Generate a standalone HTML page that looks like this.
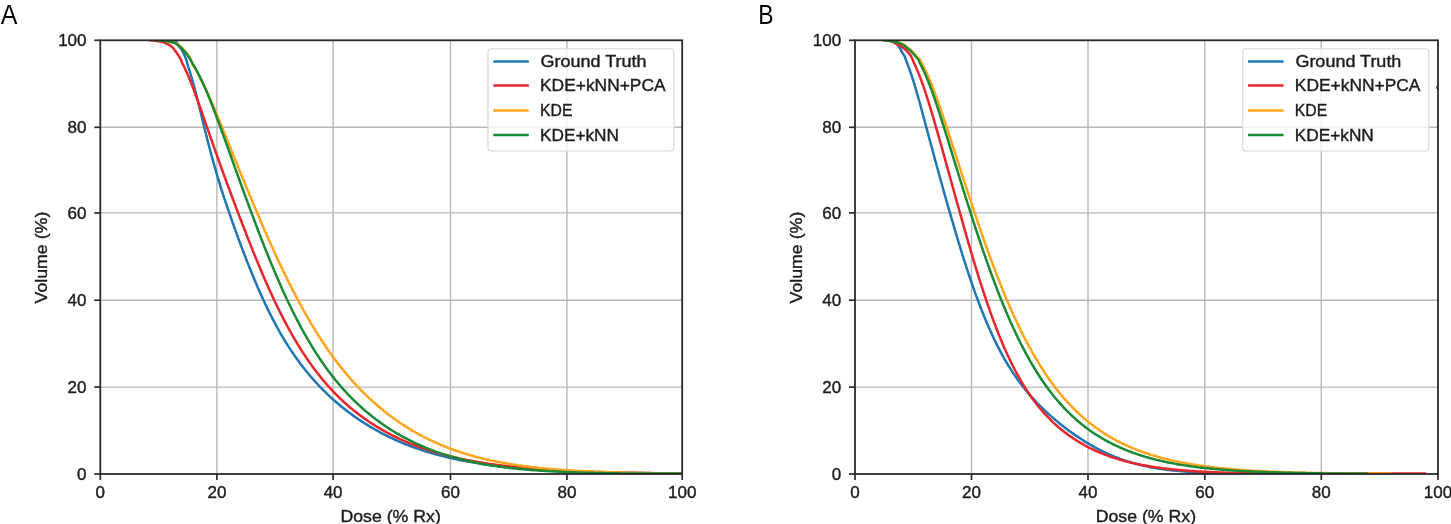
<!DOCTYPE html>
<html><head><meta charset="utf-8"><style>
html,body{margin:0;padding:0;background:#fff;width:1451px;height:524px;overflow:hidden}
svg{display:block;font-family:"Liberation Sans",sans-serif;filter:blur(0.35px)}
</style></head><body>
<svg width="1451" height="524" viewBox="0 0 1451 524" font-family="Liberation Sans, sans-serif">
<rect width="1451" height="524" fill="#ffffff"/>
<line x1="216.9" y1="40.3" x2="216.9" y2="474.0" stroke="#b8b8b8" stroke-width="1.4"/>
<line x1="333.1" y1="40.3" x2="333.1" y2="474.0" stroke="#b8b8b8" stroke-width="1.4"/>
<line x1="450.5" y1="40.3" x2="450.5" y2="474.0" stroke="#b8b8b8" stroke-width="1.4"/>
<line x1="566.9" y1="40.3" x2="566.9" y2="474.0" stroke="#b8b8b8" stroke-width="1.4"/>
<line x1="100.3" y1="387.1" x2="682.2" y2="387.1" stroke="#b8b8b8" stroke-width="1.4"/>
<line x1="100.3" y1="300.2" x2="682.2" y2="300.2" stroke="#b8b8b8" stroke-width="1.4"/>
<line x1="100.3" y1="212.9" x2="682.2" y2="212.9" stroke="#b8b8b8" stroke-width="1.4"/>
<line x1="100.3" y1="127.3" x2="682.2" y2="127.3" stroke="#b8b8b8" stroke-width="1.4"/>
<clipPath id="clipA"><rect x="100.3" y="40.3" width="581.9" height="433.7"/></clipPath>
<g clip-path="url(#clipA)">
<path d="M171.50,39.00 L173.50,40.30 L175.80,41.20 L177.60,44.00 L179.60,47.00 L181.80,50.00 L183.50,53.00 L184.90,56.30 L186.50,60.20 L187.75,65.44 L189.21,69.72 L190.66,74.34 L192.12,79.28 L193.58,84.49 L195.04,89.95 L196.50,95.60 L197.95,101.41 L199.41,107.32 L200.87,113.30 L202.32,119.30 L203.78,125.30 L205.24,131.19 L206.70,136.99 L208.16,142.70 L209.61,148.30 L211.07,153.79 L212.53,159.16 L213.99,164.41 L215.44,169.52 L216.90,174.52 L218.35,179.39 L219.81,184.15 L221.26,188.80 L222.71,193.35 L224.16,197.81 L225.62,202.18 L227.07,206.48 L228.52,210.71 L229.97,214.92 L231.43,219.11 L232.88,223.24 L234.33,227.33 L235.78,231.37 L237.24,235.36 L238.69,239.31 L240.14,243.23 L241.59,247.10 L243.05,250.93 L244.50,254.72 L245.95,258.47 L247.40,262.18 L248.86,265.85 L250.31,269.47 L251.76,273.05 L253.21,276.59 L254.67,280.07 L256.12,283.51 L257.57,286.90 L259.02,290.24 L260.48,293.53 L261.93,296.76 L263.38,299.95 L264.83,303.07 L266.29,306.13 L267.74,309.14 L269.19,312.10 L270.64,315.01 L272.10,317.86 L273.55,320.66 L275.00,323.40 L276.45,326.10 L277.91,328.74 L279.36,331.33 L280.81,333.87 L282.26,336.36 L283.72,338.81 L285.17,341.20 L286.62,343.55 L288.07,345.85 L289.52,348.11 L290.98,350.32 L292.43,352.49 L293.88,354.62 L295.34,356.71 L296.79,358.76 L298.24,360.76 L299.69,362.73 L301.14,364.66 L302.60,366.56 L304.05,368.42 L305.50,370.25 L306.96,372.04 L308.41,373.80 L309.86,375.53 L311.31,377.22 L312.76,378.89 L314.22,380.53 L315.67,382.14 L317.12,383.72 L318.58,385.27 L320.03,386.80 L321.48,388.30 L322.93,389.78 L324.38,391.23 L325.84,392.66 L327.29,394.07 L328.74,395.45 L330.20,396.81 L331.65,398.15 L333.10,399.46 L334.57,400.76 L336.04,402.03 L337.50,403.29 L338.97,404.52 L340.44,405.74 L341.91,406.93 L343.37,408.11 L344.84,409.27 L346.31,410.41 L347.78,411.54 L349.24,412.64 L350.71,413.73 L352.18,414.81 L353.65,415.86 L355.11,416.90 L356.58,417.93 L358.05,418.94 L359.52,419.93 L360.98,420.91 L362.45,421.87 L363.92,422.81 L365.38,423.75 L366.85,424.66 L368.32,425.57 L369.79,426.46 L371.25,427.33 L372.72,428.19 L374.19,429.04 L375.66,429.88 L377.12,430.70 L378.59,431.51 L380.06,432.30 L381.53,433.08 L383.00,433.85 L384.46,434.61 L385.93,435.35 L387.40,436.09 L388.87,436.81 L390.33,437.52 L391.80,438.21 L393.27,438.90 L394.74,439.57 L396.20,440.24 L397.67,440.89 L399.14,441.53 L400.61,442.16 L402.07,442.78 L403.54,443.38 L405.01,443.98 L406.48,444.57 L407.94,445.15 L409.41,445.71 L410.88,446.27 L412.35,446.82 L413.81,447.36 L415.28,447.88 L416.75,448.40 L418.22,448.91 L419.68,449.41 L421.15,449.91 L422.62,450.39 L424.09,450.86 L425.55,451.33 L427.02,451.79 L428.49,452.23 L429.96,452.67 L431.42,453.11 L432.89,453.53 L434.36,453.95 L435.82,454.36 L437.29,454.76 L438.76,455.15 L440.23,455.54 L441.69,455.91 L443.16,456.29 L444.63,456.65 L446.10,457.01 L447.56,457.36 L449.03,457.70 L450.50,458.04 L451.95,458.37 L453.41,458.69 L454.87,459.01 L456.32,459.33 L457.77,459.63 L459.23,459.93 L460.69,460.22 L462.14,460.51 L463.59,460.80 L465.05,461.07 L466.50,461.34 L467.96,461.61 L469.42,461.87 L470.87,462.13 L472.32,462.38 L473.78,462.62 L475.24,462.86 L476.69,463.10 L478.14,463.33 L479.60,463.56 L481.06,463.78 L482.51,464.00 L483.96,464.21 L485.42,464.42 L486.88,464.62 L488.33,464.82 L489.78,465.02 L491.24,465.21 L492.69,465.40 L494.15,465.58 L495.61,465.76 L497.06,465.94 L498.51,466.11 L499.97,466.28 L501.43,466.45 L502.88,466.61 L504.33,466.77 L505.79,466.92 L507.25,467.08 L508.70,467.22 L510.15,467.37 L511.61,467.51 L513.06,467.65 L514.52,467.79 L515.98,467.93 L517.43,468.06 L518.88,468.19 L520.34,468.31 L521.79,468.43 L523.25,468.56 L524.70,468.67 L526.16,468.79 L527.62,468.90 L529.07,469.01 L530.52,469.12 L531.98,469.23 L533.43,469.33 L534.89,469.43 L536.35,469.53 L537.80,469.63 L539.25,469.72 L540.71,469.82 L542.16,469.91 L543.62,470.00 L545.07,470.08 L546.53,470.17 L547.99,470.25 L549.44,470.34 L550.89,470.42 L552.35,470.49 L553.80,470.57 L555.26,470.65 L556.71,470.72 L558.17,470.79 L559.62,470.86 L561.08,470.93 L562.53,471.00 L563.99,471.06 L565.44,471.13 L566.90,471.19 L568.34,471.25 L569.78,471.31 L571.22,471.37 L572.66,471.43 L574.11,471.48 L575.55,471.54 L576.99,471.59 L578.43,471.65 L579.87,471.70 L581.31,471.75 L582.75,471.80 L584.19,471.84 L585.64,471.89 L587.08,471.94 L588.52,471.98 L589.96,472.03 L591.40,472.07 L592.84,472.11 L594.28,472.15 L595.73,472.19 L597.17,472.23 L598.61,472.27 L600.05,472.31 L601.49,472.35 L602.93,472.38 L604.37,472.42 L605.81,472.45 L607.25,472.49 L608.70,472.52 L610.14,472.55 L611.58,472.59 L613.02,472.62 L614.46,472.65 L615.90,472.68 L617.34,472.70 L618.78,472.73 L620.23,472.76 L621.67,472.79 L623.11,472.81 L624.55,472.84 L625.99,472.87 L627.43,472.89 L628.87,472.91 L630.32,472.94 L631.76,472.96 L633.20,472.98 L634.64,473.01 L636.08,473.03 L637.52,473.05 L638.96,473.07 L640.40,473.09 L641.85,473.11 L643.29,473.13 L644.73,473.15 L646.17,473.17 L647.61,473.19 L649.05,473.20 L650.49,473.22 L651.93,473.24 L653.38,473.25 L654.82,473.27 L656.26,473.29 L657.70,473.30 L659.14,473.32 L660.58,473.33 L662.02,473.35 L663.46,473.36 L664.90,473.37 L666.35,473.39 L667.79,473.40 L669.23,473.41 L670.67,473.43 L672.11,473.44 L673.55,473.45 L674.99,473.46 L676.44,473.48 L677.88,473.49 L679.32,473.50 L680.76,473.51 L682.20,473.52" fill="none" stroke="#1f77b4" stroke-width="2.5" stroke-linejoin="round" stroke-linecap="butt"/>
<path d="M148.00,39.00 L150.00,40.30 L155.00,40.85 L160.00,41.60 L165.00,42.90 L170.00,45.30 L172.70,47.60 L175.30,51.00 L178.00,54.70 L181.10,60.00 L181.92,62.50 L183.38,65.32 L184.83,68.32 L186.29,71.48 L187.75,74.80 L189.21,78.25 L190.66,81.84 L192.12,85.54 L193.58,89.34 L195.04,93.24 L196.50,97.21 L197.95,101.25 L199.41,105.35 L200.87,109.49 L202.32,113.66 L203.78,117.86 L205.24,122.08 L206.70,126.31 L208.16,130.49 L209.61,134.66 L211.07,138.82 L212.53,142.97 L213.99,147.10 L215.44,151.22 L216.90,155.32 L218.35,159.40 L219.81,163.47 L221.26,167.51 L222.71,171.53 L224.16,175.52 L225.62,179.50 L227.07,183.45 L228.52,187.39 L229.97,191.30 L231.43,195.19 L232.88,199.05 L234.33,202.90 L235.78,206.73 L237.24,210.53 L238.69,214.34 L240.14,218.18 L241.59,221.99 L243.05,225.78 L244.50,229.55 L245.95,233.29 L247.40,237.01 L248.86,240.70 L250.31,244.37 L251.76,248.01 L253.21,251.62 L254.67,255.20 L256.12,258.75 L257.57,262.28 L259.02,265.77 L260.48,269.22 L261.93,272.65 L263.38,276.03 L264.83,279.39 L266.29,282.70 L267.74,285.98 L269.19,289.22 L270.64,292.42 L272.10,295.59 L273.55,298.71 L275.00,301.78 L276.45,304.81 L277.91,307.79 L279.36,310.74 L280.81,313.64 L282.26,316.50 L283.72,319.32 L285.17,322.09 L286.62,324.82 L288.07,327.51 L289.52,330.16 L290.98,332.76 L292.43,335.32 L293.88,337.84 L295.34,340.32 L296.79,342.75 L298.24,345.15 L299.69,347.50 L301.14,349.81 L302.60,352.09 L304.05,354.32 L305.50,356.51 L306.96,358.67 L308.41,360.78 L309.86,362.86 L311.31,364.90 L312.76,366.90 L314.22,368.87 L315.67,370.80 L317.12,372.70 L318.58,374.56 L320.03,376.39 L321.48,378.18 L322.93,379.95 L324.38,381.68 L325.84,383.37 L327.29,385.04 L328.74,386.68 L330.20,388.28 L331.65,389.86 L333.10,391.41 L334.57,392.93 L336.04,394.42 L337.50,395.89 L338.97,397.32 L340.44,398.74 L341.91,400.12 L343.37,401.48 L344.84,402.82 L346.31,404.13 L347.78,405.42 L349.24,406.69 L350.71,407.93 L352.18,409.15 L353.65,410.35 L355.11,411.53 L356.58,412.69 L358.05,413.82 L359.52,414.94 L360.98,416.03 L362.45,417.11 L363.92,418.17 L365.38,419.21 L366.85,420.23 L368.32,421.23 L369.79,422.21 L371.25,423.18 L372.72,424.13 L374.19,425.06 L375.66,425.98 L377.12,426.88 L378.59,427.76 L380.06,428.63 L381.53,429.49 L383.00,430.33 L384.46,431.15 L385.93,431.96 L387.40,432.76 L388.87,433.54 L390.33,434.30 L391.80,435.06 L393.27,435.80 L394.74,436.53 L396.20,437.24 L397.67,437.95 L399.14,438.64 L400.61,439.31 L402.07,439.98 L403.54,440.63 L405.01,441.28 L406.48,441.91 L407.94,442.53 L409.41,443.13 L410.88,443.73 L412.35,444.32 L413.81,444.90 L415.28,445.46 L416.75,446.02 L418.22,446.57 L419.68,447.10 L421.15,447.63 L422.62,448.15 L424.09,448.65 L425.55,449.15 L427.02,449.64 L428.49,450.12 L429.96,450.59 L431.42,451.06 L432.89,451.51 L434.36,451.96 L435.82,452.40 L437.29,452.83 L438.76,453.25 L440.23,453.66 L441.69,454.07 L443.16,454.47 L444.63,454.86 L446.10,455.25 L447.56,455.62 L449.03,455.99 L450.50,456.36 L451.95,456.71 L453.41,457.06 L454.87,457.41 L456.32,457.74 L457.77,458.07 L459.23,458.40 L460.69,458.72 L462.14,459.03 L463.59,459.33 L465.05,459.63 L466.50,459.93 L467.96,460.22 L469.42,460.50 L470.87,460.78 L472.32,461.05 L473.78,461.31 L475.24,461.58 L476.69,461.83 L478.14,462.08 L479.60,462.33 L481.06,462.57 L482.51,462.81 L483.96,463.04 L485.42,463.27 L486.88,463.49 L488.33,463.71 L489.78,463.93 L491.24,464.14 L492.69,464.34 L494.15,464.55 L495.61,464.74 L497.06,464.94 L498.51,465.13 L499.97,465.31 L501.43,465.50 L502.88,465.68 L504.33,465.85 L505.79,466.02 L507.25,466.19 L508.70,466.36 L510.15,466.52 L511.61,466.68 L513.06,466.83 L514.52,466.98 L515.98,467.13 L517.43,467.28 L518.88,467.42 L520.34,467.56 L521.79,467.70 L523.25,467.83 L524.70,467.96 L526.16,468.09 L527.62,468.22 L529.07,468.34 L530.52,468.46 L531.98,468.58 L533.43,468.69 L534.89,468.81 L536.35,468.92 L537.80,469.03 L539.25,469.13 L540.71,469.24 L542.16,469.34 L543.62,469.44 L545.07,469.54 L546.53,469.64 L547.99,469.73 L549.44,469.82 L550.89,469.91 L552.35,470.00 L553.80,470.09 L555.26,470.17 L556.71,470.25 L558.17,470.33 L559.62,470.41 L561.08,470.49 L562.53,470.57 L563.99,470.64 L565.44,470.71 L566.90,470.78 L568.34,470.85 L569.78,470.92 L571.22,470.99 L572.66,471.05 L574.11,471.12 L575.55,471.18 L576.99,471.24 L578.43,471.30 L579.87,471.36 L581.31,471.42 L582.75,471.47 L584.19,471.53 L585.64,471.58 L587.08,471.63 L588.52,471.68 L589.96,471.74 L591.40,471.78 L592.84,471.83 L594.28,471.88 L595.73,471.93 L597.17,471.97 L598.61,472.02 L600.05,472.06 L601.49,472.10 L602.93,472.14 L604.37,472.18 L605.81,472.22 L607.25,472.26 L608.70,472.30 L610.14,472.34 L611.58,472.37 L613.02,472.41 L614.46,472.44 L615.90,472.48 L617.34,472.51 L618.78,472.54 L620.23,472.57 L621.67,472.60 L623.11,472.64 L624.55,472.67 L625.99,472.69 L627.43,472.72 L628.87,472.75 L630.32,472.78 L631.76,472.80 L633.20,472.83 L634.64,472.86 L636.08,472.88 L637.52,472.91 L638.96,472.93 L640.40,472.95 L641.85,472.98 L643.29,473.00 L644.73,473.02 L646.17,473.04 L647.61,473.06 L649.05,473.08 L650.49,473.10 L651.93,473.12 L653.38,473.14 L654.82,473.16 L656.26,473.18 L657.70,473.20 L659.14,473.21 L660.58,473.23 L662.02,473.25 L663.46,473.26 L664.90,473.28 L666.35,473.30 L667.79,473.31 L669.23,473.33 L670.67,473.34 L672.11,473.36 L673.55,473.37 L674.99,473.38 L676.44,473.40 L677.88,473.41 L679.32,473.42 L680.76,473.43 L682.20,473.45" fill="none" stroke="#e8262b" stroke-width="2.5" stroke-linejoin="round" stroke-linecap="butt"/>
<path d="M156.00,39.00 L158.00,40.30 L164.00,40.70 L169.00,41.40 L173.00,42.20 L176.20,43.20 L179.60,45.70 L182.80,48.70 L185.70,51.80 L188.40,55.50 L191.20,60.00 L192.12,63.80 L193.58,66.07 L195.04,68.45 L196.50,70.93 L197.95,73.52 L199.41,76.21 L200.87,79.00 L202.32,81.87 L203.78,84.84 L205.24,87.88 L206.70,91.00 L208.16,94.19 L209.61,97.45 L211.07,100.77 L212.53,104.14 L213.99,107.56 L215.44,111.02 L216.90,114.53 L218.35,118.07 L219.81,121.63 L221.26,125.23 L222.71,128.82 L224.16,132.39 L225.62,135.98 L227.07,139.58 L228.52,143.18 L229.97,146.79 L231.43,150.40 L232.88,154.01 L234.33,157.62 L235.78,161.22 L237.24,164.82 L238.69,168.40 L240.14,171.98 L241.59,175.55 L243.05,179.10 L244.50,182.64 L245.95,186.16 L247.40,189.67 L248.86,193.16 L250.31,196.63 L251.76,200.09 L253.21,203.53 L254.67,206.95 L256.12,210.35 L257.57,213.75 L259.02,217.18 L260.48,220.58 L261.93,223.97 L263.38,227.33 L264.83,230.67 L266.29,233.99 L267.74,237.29 L269.19,240.57 L270.64,243.82 L272.10,247.04 L273.55,250.25 L275.00,253.42 L276.45,256.58 L277.91,259.70 L279.36,262.81 L280.81,265.88 L282.26,268.93 L283.72,271.96 L285.17,274.95 L286.62,277.92 L288.07,280.86 L289.52,283.78 L290.98,286.66 L292.43,289.52 L293.88,292.34 L295.34,295.14 L296.79,297.91 L298.24,300.65 L299.69,303.34 L301.14,306.01 L302.60,308.65 L304.05,311.25 L305.50,313.83 L306.96,316.38 L308.41,318.89 L309.86,321.38 L311.31,323.83 L312.76,326.26 L314.22,328.65 L315.67,331.01 L317.12,333.35 L318.58,335.65 L320.03,337.92 L321.48,340.16 L322.93,342.37 L324.38,344.55 L325.84,346.71 L327.29,348.83 L328.74,350.92 L330.20,352.99 L331.65,355.02 L333.10,357.03 L334.57,359.01 L336.04,360.96 L337.50,362.88 L338.97,364.77 L340.44,366.64 L341.91,368.48 L343.37,370.29 L344.84,372.08 L346.31,373.84 L347.78,375.57 L349.24,377.28 L350.71,378.96 L352.18,380.62 L353.65,382.25 L355.11,383.86 L356.58,385.45 L358.05,387.01 L359.52,388.54 L360.98,390.06 L362.45,391.55 L363.92,393.02 L365.38,394.46 L366.85,395.89 L368.32,397.29 L369.79,398.67 L371.25,400.03 L372.72,401.37 L374.19,402.69 L375.66,403.99 L377.12,405.27 L378.59,406.53 L380.06,407.77 L381.53,408.99 L383.00,410.19 L384.46,411.37 L385.93,412.53 L387.40,413.68 L388.87,414.81 L390.33,415.92 L391.80,417.01 L393.27,418.08 L394.74,419.14 L396.20,420.18 L397.67,421.21 L399.14,422.22 L400.61,423.21 L402.07,424.19 L403.54,425.15 L405.01,426.09 L406.48,427.02 L407.94,427.93 L409.41,428.83 L410.88,429.72 L412.35,430.59 L413.81,431.44 L415.28,432.29 L416.75,433.11 L418.22,433.93 L419.68,434.73 L421.15,435.51 L422.62,436.29 L424.09,437.05 L425.55,437.79 L427.02,438.53 L428.49,439.25 L429.96,439.96 L431.42,440.66 L432.89,441.34 L434.36,442.01 L435.82,442.67 L437.29,443.32 L438.76,443.96 L440.23,444.59 L441.69,445.20 L443.16,445.81 L444.63,446.40 L446.10,446.98 L447.56,447.55 L449.03,448.12 L450.50,448.67 L451.95,449.21 L453.41,449.74 L454.87,450.26 L456.32,450.77 L457.77,451.27 L459.23,451.77 L460.69,452.25 L462.14,452.72 L463.59,453.19 L465.05,453.64 L466.50,454.09 L467.96,454.53 L469.42,454.96 L470.87,455.38 L472.32,455.79 L473.78,456.20 L475.24,456.60 L476.69,456.99 L478.14,457.37 L479.60,457.74 L481.06,458.11 L482.51,458.47 L483.96,458.82 L485.42,459.16 L486.88,459.50 L488.33,459.83 L489.78,460.16 L491.24,460.47 L492.69,460.78 L494.15,461.09 L495.61,461.39 L497.06,461.68 L498.51,461.96 L499.97,462.24 L501.43,462.52 L502.88,462.78 L504.33,463.05 L505.79,463.30 L507.25,463.55 L508.70,463.80 L510.15,464.04 L511.61,464.28 L513.06,464.51 L514.52,464.73 L515.98,464.95 L517.43,465.17 L518.88,465.38 L520.34,465.58 L521.79,465.78 L523.25,465.98 L524.70,466.17 L526.16,466.36 L527.62,466.55 L529.07,466.73 L530.52,466.90 L531.98,467.07 L533.43,467.24 L534.89,467.41 L536.35,467.57 L537.80,467.72 L539.25,467.88 L540.71,468.03 L542.16,468.17 L543.62,468.32 L545.07,468.46 L546.53,468.59 L547.99,468.73 L549.44,468.86 L550.89,468.98 L552.35,469.11 L553.80,469.23 L555.26,469.35 L556.71,469.46 L558.17,469.58 L559.62,469.69 L561.08,469.79 L562.53,469.90 L563.99,470.00 L565.44,470.10 L566.90,470.20 L568.34,470.30 L569.78,470.39 L571.22,470.48 L572.66,470.57 L574.11,470.65 L575.55,470.74 L576.99,470.82 L578.43,470.90 L579.87,470.98 L581.31,471.06 L582.75,471.13 L584.19,471.21 L585.64,471.28 L587.08,471.35 L588.52,471.41 L589.96,471.48 L591.40,471.54 L592.84,471.61 L594.28,471.67 L595.73,471.73 L597.17,471.79 L598.61,471.84 L600.05,471.90 L601.49,471.95 L602.93,472.01 L604.37,472.06 L605.81,472.11 L607.25,472.16 L608.70,472.20 L610.14,472.25 L611.58,472.29 L613.02,472.34 L614.46,472.38 L615.90,472.42 L617.34,472.47 L618.78,472.50 L620.23,472.54 L621.67,472.58 L623.11,472.62 L624.55,472.65 L625.99,472.69 L627.43,472.72 L628.87,472.76 L630.32,472.79 L631.76,472.82 L633.20,472.85 L634.64,472.88 L636.08,472.91 L637.52,472.94 L638.96,472.97 L640.40,472.99 L641.85,473.02 L643.29,473.05 L644.73,473.07 L646.17,473.10 L647.61,473.12 L649.05,473.14 L650.49,473.17 L651.93,473.19 L653.38,473.21 L654.82,473.23 L656.26,473.25 L657.70,473.27 L659.14,473.29 L660.58,473.30 L662.02,473.30 L663.46,473.30 L664.90,473.30 L666.35,473.30 L667.79,473.30 L669.23,473.30 L670.67,473.30 L672.11,473.30 L673.55,473.30 L674.99,473.30 L676.44,473.30 L677.88,473.30 L679.32,473.30 L680.76,473.30 L682.20,473.30" fill="none" stroke="#ffa51c" stroke-width="2.5" stroke-linejoin="round" stroke-linecap="butt"/>
<path d="M155.00,39.00 L157.00,40.30 L163.00,40.70 L168.00,41.40 L172.00,42.20 L175.30,43.20 L178.80,45.70 L182.00,48.70 L185.00,51.80 L187.80,55.50 L190.70,60.00 L192.12,62.79 L193.58,65.15 L195.04,67.64 L196.50,70.26 L197.95,73.00 L199.41,75.87 L200.87,78.85 L202.32,81.94 L203.78,85.15 L205.24,88.45 L206.70,91.84 L208.16,95.33 L209.61,98.89 L211.07,102.54 L212.53,106.25 L213.99,110.03 L215.44,113.86 L216.90,117.74 L218.35,121.68 L219.81,125.65 L221.26,129.61 L222.71,133.58 L224.16,137.58 L225.62,141.59 L227.07,145.62 L228.52,149.66 L229.97,153.71 L231.43,157.76 L232.88,161.81 L234.33,165.86 L235.78,169.91 L237.24,173.94 L238.69,177.97 L240.14,181.99 L241.59,185.99 L243.05,189.98 L244.50,193.95 L245.95,197.90 L247.40,201.83 L248.86,205.74 L250.31,209.63 L251.76,213.50 L253.21,217.42 L254.67,221.30 L256.12,225.17 L257.57,229.00 L259.02,232.80 L260.48,236.58 L261.93,240.32 L263.38,244.03 L264.83,247.71 L266.29,251.36 L267.74,254.98 L269.19,258.56 L270.64,262.10 L272.10,265.61 L273.55,269.09 L275.00,272.53 L276.45,275.93 L277.91,279.29 L279.36,282.62 L280.81,285.90 L282.26,289.15 L283.72,292.36 L285.17,295.53 L286.62,298.66 L288.07,301.74 L289.52,304.77 L290.98,307.77 L292.43,310.72 L293.88,313.63 L295.34,316.50 L296.79,319.33 L298.24,322.12 L299.69,324.86 L301.14,327.57 L302.60,330.23 L304.05,332.85 L305.50,335.43 L306.96,337.98 L308.41,340.48 L309.86,342.94 L311.31,345.36 L312.76,347.74 L314.22,350.08 L315.67,352.38 L317.12,354.64 L318.58,356.86 L320.03,359.05 L321.48,361.20 L322.93,363.31 L324.38,365.39 L325.84,367.43 L327.29,369.43 L328.74,371.40 L330.20,373.34 L331.65,375.24 L333.10,377.11 L334.57,378.94 L336.04,380.75 L337.50,382.52 L338.97,384.26 L340.44,385.97 L341.91,387.65 L343.37,389.30 L344.84,390.92 L346.31,392.51 L347.78,394.07 L349.24,395.61 L350.71,397.12 L352.18,398.60 L353.65,400.06 L355.11,401.49 L356.58,402.90 L358.05,404.28 L359.52,405.64 L360.98,406.98 L362.45,408.29 L363.92,409.58 L365.38,410.85 L366.85,412.09 L368.32,413.32 L369.79,414.52 L371.25,415.70 L372.72,416.86 L374.19,418.01 L375.66,419.13 L377.12,420.23 L378.59,421.32 L380.06,422.38 L381.53,423.43 L383.00,424.46 L384.46,425.47 L385.93,426.47 L387.40,427.44 L388.87,428.40 L390.33,429.35 L391.80,430.27 L393.27,431.19 L394.74,432.08 L396.20,432.96 L397.67,433.83 L399.14,434.68 L400.61,435.51 L402.07,436.33 L403.54,437.14 L405.01,437.93 L406.48,438.70 L407.94,439.47 L409.41,440.22 L410.88,440.95 L412.35,441.68 L413.81,442.39 L415.28,443.08 L416.75,443.77 L418.22,444.44 L419.68,445.10 L421.15,445.74 L422.62,446.38 L424.09,447.00 L425.55,447.61 L427.02,448.21 L428.49,448.80 L429.96,449.38 L431.42,449.95 L432.89,450.50 L434.36,451.05 L435.82,451.58 L437.29,452.10 L438.76,452.62 L440.23,453.12 L441.69,453.61 L443.16,454.09 L444.63,454.57 L446.10,455.03 L447.56,455.49 L449.03,455.93 L450.50,456.37 L451.95,456.79 L453.41,457.21 L454.87,457.62 L456.32,458.02 L457.77,458.41 L459.23,458.80 L460.69,459.17 L462.14,459.54 L463.59,459.90 L465.05,460.25 L466.50,460.60 L467.96,460.93 L469.42,461.26 L470.87,461.58 L472.32,461.90 L473.78,462.21 L475.24,462.51 L476.69,462.80 L478.14,463.09 L479.60,463.37 L481.06,463.64 L482.51,463.91 L483.96,464.17 L485.42,464.43 L486.88,464.68 L488.33,464.93 L489.78,465.16 L491.24,465.40 L492.69,465.62 L494.15,465.85 L495.61,466.06 L497.06,466.27 L498.51,466.48 L499.97,466.68 L501.43,466.88 L502.88,467.07 L504.33,467.26 L505.79,467.44 L507.25,467.62 L508.70,467.79 L510.15,467.96 L511.61,468.12 L513.06,468.28 L514.52,468.44 L515.98,468.59 L517.43,468.74 L518.88,468.89 L520.34,469.03 L521.79,469.17 L523.25,469.30 L524.70,469.43 L526.16,469.56 L527.62,469.68 L529.07,469.80 L530.52,469.92 L531.98,470.04 L533.43,470.15 L534.89,470.26 L536.35,470.36 L537.80,470.47 L539.25,470.57 L540.71,470.66 L542.16,470.76 L543.62,470.85 L545.07,470.94 L546.53,471.03 L547.99,471.11 L549.44,471.20 L550.89,471.28 L552.35,471.36 L553.80,471.43 L555.26,471.51 L556.71,471.58 L558.17,471.65 L559.62,471.72 L561.08,471.78 L562.53,471.85 L563.99,471.91 L565.44,471.97 L566.90,472.03 L568.34,472.09 L569.78,472.15 L571.22,472.20 L572.66,472.25 L574.11,472.31 L575.55,472.36 L576.99,472.40 L578.43,472.45 L579.87,472.50 L581.31,472.54 L582.75,472.59 L584.19,472.63 L585.64,472.67 L587.08,472.71 L588.52,472.75 L589.96,472.78 L591.40,472.82 L592.84,472.86 L594.28,472.89 L595.73,472.92 L597.17,472.96 L598.61,472.99 L600.05,473.02 L601.49,473.05 L602.93,473.08 L604.37,473.10 L605.81,473.13 L607.25,473.16 L608.70,473.18 L610.14,473.21 L611.58,473.23 L613.02,473.26 L614.46,473.28 L615.90,473.30 L617.34,473.32 L618.78,473.34 L620.23,473.36 L621.67,473.38 L623.11,473.40 L624.55,473.42 L625.99,473.44 L627.43,473.45 L628.87,473.47 L630.32,473.49 L631.76,473.50 L633.20,473.50 L634.64,473.50 L636.08,473.50 L637.52,473.50 L638.96,473.50 L640.40,473.50 L641.85,473.50 L643.29,473.50 L644.73,473.50 L646.17,473.50 L647.61,473.50 L649.05,473.50 L650.49,473.50 L651.93,473.50 L653.38,473.50 L654.82,473.50 L656.26,473.50 L657.70,473.50 L659.14,473.50 L660.58,473.50 L662.02,473.50 L663.46,473.50 L664.90,473.50 L666.35,473.50 L667.79,473.50 L669.23,473.50 L670.67,473.50 L672.11,473.50 L673.55,473.50 L674.99,473.50 L676.44,473.50 L677.88,473.50 L679.32,473.50 L680.76,473.50 L682.20,473.50" fill="none" stroke="#1a8a36" stroke-width="2.5" stroke-linejoin="round" stroke-linecap="butt"/>
</g>
<rect x="100.3" y="40.3" width="581.9" height="433.7" fill="none" stroke="#2a2a2a" stroke-width="1.8"/>
<line x1="100.3" y1="474.0" x2="100.3" y2="480.0" stroke="#2a2a2a" stroke-width="1.7"/>
<line x1="216.9" y1="474.0" x2="216.9" y2="480.0" stroke="#2a2a2a" stroke-width="1.7"/>
<line x1="333.1" y1="474.0" x2="333.1" y2="480.0" stroke="#2a2a2a" stroke-width="1.7"/>
<line x1="450.5" y1="474.0" x2="450.5" y2="480.0" stroke="#2a2a2a" stroke-width="1.7"/>
<line x1="566.9" y1="474.0" x2="566.9" y2="480.0" stroke="#2a2a2a" stroke-width="1.7"/>
<line x1="682.2" y1="474.0" x2="682.2" y2="480.0" stroke="#2a2a2a" stroke-width="1.7"/>
<line x1="94.3" y1="474.0" x2="100.3" y2="474.0" stroke="#2a2a2a" stroke-width="1.7"/>
<line x1="94.3" y1="387.1" x2="100.3" y2="387.1" stroke="#2a2a2a" stroke-width="1.7"/>
<line x1="94.3" y1="300.2" x2="100.3" y2="300.2" stroke="#2a2a2a" stroke-width="1.7"/>
<line x1="94.3" y1="212.9" x2="100.3" y2="212.9" stroke="#2a2a2a" stroke-width="1.7"/>
<line x1="94.3" y1="127.3" x2="100.3" y2="127.3" stroke="#2a2a2a" stroke-width="1.7"/>
<line x1="94.3" y1="40.3" x2="100.3" y2="40.3" stroke="#2a2a2a" stroke-width="1.7"/>
<text x="100.3" y="498.3" text-anchor="middle" font-size="17" fill="#1c1c1c" stroke="#1c1c1c" stroke-width="0.4">0</text>
<text x="216.9" y="498.3" text-anchor="middle" font-size="17" fill="#1c1c1c" stroke="#1c1c1c" stroke-width="0.4">20</text>
<text x="333.1" y="498.3" text-anchor="middle" font-size="17" fill="#1c1c1c" stroke="#1c1c1c" stroke-width="0.4">40</text>
<text x="450.5" y="498.3" text-anchor="middle" font-size="17" fill="#1c1c1c" stroke="#1c1c1c" stroke-width="0.4">60</text>
<text x="566.9" y="498.3" text-anchor="middle" font-size="17" fill="#1c1c1c" stroke="#1c1c1c" stroke-width="0.4">80</text>
<text x="682.2" y="498.3" text-anchor="middle" font-size="17" fill="#1c1c1c" stroke="#1c1c1c" stroke-width="0.4">100</text>
<text x="86.5" y="479.8" text-anchor="end" font-size="17" fill="#1c1c1c" stroke="#1c1c1c" stroke-width="0.4">0</text>
<text x="86.5" y="392.90000000000003" text-anchor="end" font-size="17" fill="#1c1c1c" stroke="#1c1c1c" stroke-width="0.4">20</text>
<text x="86.5" y="306.0" text-anchor="end" font-size="17" fill="#1c1c1c" stroke="#1c1c1c" stroke-width="0.4">40</text>
<text x="86.5" y="218.70000000000002" text-anchor="end" font-size="17" fill="#1c1c1c" stroke="#1c1c1c" stroke-width="0.4">60</text>
<text x="86.5" y="133.1" text-anchor="end" font-size="17" fill="#1c1c1c" stroke="#1c1c1c" stroke-width="0.4">80</text>
<text x="86.5" y="46.099999999999994" text-anchor="end" font-size="17" fill="#1c1c1c" stroke="#1c1c1c" stroke-width="0.4">100</text>
<text x="390.65" y="521.9" text-anchor="middle" font-size="17" fill="#1c1c1c" stroke="#1c1c1c" stroke-width="0.4" textLength="100.4" lengthAdjust="spacingAndGlyphs">Dose (% Rx)</text>
<text transform="translate(47.0,257.6) rotate(-90)" x="0" y="0" text-anchor="middle" font-size="17" fill="#1c1c1c" stroke="#1c1c1c" stroke-width="0.4" textLength="91.8" lengthAdjust="spacingAndGlyphs">Volume (%)</text>
<rect x="488.0" y="48.7" width="186.0" height="102.3" rx="3" ry="3" fill="#ffffff" fill-opacity="0.8" stroke="#d8d8d8" stroke-width="1.1"/>
<line x1="493.3" y1="61.4" x2="528.8" y2="61.4" stroke="#1f77b4" stroke-width="2.5"/>
<text x="540.6" y="67.0" font-size="17.2" fill="#1c1c1c" stroke="#1c1c1c" stroke-width="0.4" textLength="106.0" lengthAdjust="spacingAndGlyphs">Ground Truth</text>
<line x1="493.3" y1="85.6" x2="528.8" y2="85.6" stroke="#e8262b" stroke-width="2.5"/>
<text x="540.0" y="91.19999999999999" font-size="17.2" fill="#1c1c1c" stroke="#1c1c1c" stroke-width="0.4" textLength="125.6" lengthAdjust="spacingAndGlyphs">KDE+kNN+PCA</text>
<line x1="493.3" y1="110.4" x2="528.8" y2="110.4" stroke="#ffa51c" stroke-width="2.5"/>
<text x="540.0" y="116.0" font-size="17.2" fill="#1c1c1c" stroke="#1c1c1c" stroke-width="0.4" textLength="32.4" lengthAdjust="spacingAndGlyphs">KDE</text>
<line x1="493.3" y1="135.0" x2="528.8" y2="135.0" stroke="#1a8a36" stroke-width="2.5"/>
<text x="540.0" y="140.6" font-size="17.2" fill="#1c1c1c" stroke="#1c1c1c" stroke-width="0.4" textLength="79.0" lengthAdjust="spacingAndGlyphs">KDE+kNN</text>
<text transform="translate(0.8,24.2) scale(0.89,1)" x="0" y="0" font-size="28" fill="#000">A</text>
<line x1="971.5" y1="40.3" x2="971.5" y2="474.0" stroke="#b8b8b8" stroke-width="1.4"/>
<line x1="1088.0" y1="40.3" x2="1088.0" y2="474.0" stroke="#b8b8b8" stroke-width="1.4"/>
<line x1="1204.8" y1="40.3" x2="1204.8" y2="474.0" stroke="#b8b8b8" stroke-width="1.4"/>
<line x1="1321.3" y1="40.3" x2="1321.3" y2="474.0" stroke="#b8b8b8" stroke-width="1.4"/>
<line x1="855.0" y1="387.1" x2="1438.0" y2="387.1" stroke="#b8b8b8" stroke-width="1.4"/>
<line x1="855.0" y1="300.2" x2="1438.0" y2="300.2" stroke="#b8b8b8" stroke-width="1.4"/>
<line x1="855.0" y1="212.9" x2="1438.0" y2="212.9" stroke="#b8b8b8" stroke-width="1.4"/>
<line x1="855.0" y1="127.3" x2="1438.0" y2="127.3" stroke="#b8b8b8" stroke-width="1.4"/>
<clipPath id="clipB"><rect x="855.0" y="40.3" width="583.0" height="433.7"/></clipPath>
<g clip-path="url(#clipB)">
<path d="M889.00,39.00 L891.00,40.30 L894.50,41.90 L897.30,44.60 L900.00,48.40 L902.20,52.30 L904.50,56.10 L906.00,60.00 L907.42,63.85 L908.88,67.67 L910.34,71.76 L911.79,76.09 L913.25,80.64 L914.71,85.38 L916.16,90.29 L917.62,95.34 L919.08,100.51 L920.53,105.78 L921.99,111.12 L923.44,116.53 L924.90,121.97 L926.36,127.44 L927.81,132.85 L929.27,138.26 L930.73,143.67 L932.18,149.07 L933.64,154.45 L935.09,159.82 L936.55,165.16 L938.01,170.48 L939.46,175.77 L940.92,181.03 L942.38,186.26 L943.83,191.45 L945.29,196.60 L946.74,201.72 L948.20,206.79 L949.66,211.83 L951.11,216.90 L952.57,221.95 L954.02,226.94 L955.48,231.89 L956.94,236.79 L958.39,241.63 L959.85,246.42 L961.31,251.15 L962.76,255.82 L964.22,260.43 L965.67,264.97 L967.13,269.46 L968.59,273.87 L970.04,278.21 L971.50,282.49 L972.96,286.69 L974.41,290.82 L975.87,294.88 L977.33,298.86 L978.78,302.75 L980.24,306.56 L981.69,310.30 L983.15,313.96 L984.61,317.54 L986.06,321.04 L987.52,324.47 L988.98,327.82 L990.43,331.10 L991.89,334.29 L993.34,337.42 L994.80,340.47 L996.26,343.44 L997.71,346.35 L999.17,349.18 L1000.62,351.94 L1002.08,354.63 L1003.54,357.26 L1004.99,359.82 L1006.45,362.31 L1007.91,364.74 L1009.36,367.12 L1010.82,369.43 L1012.27,371.68 L1013.73,373.88 L1015.19,376.02 L1016.64,378.11 L1018.10,380.15 L1019.56,382.14 L1021.01,384.08 L1022.47,385.98 L1023.92,387.83 L1025.38,389.64 L1026.84,391.41 L1028.29,393.15 L1029.75,394.84 L1031.21,396.50 L1032.66,398.12 L1034.12,399.71 L1035.58,401.27 L1037.03,402.80 L1038.49,404.30 L1039.94,405.77 L1041.40,407.22 L1042.86,408.64 L1044.31,410.03 L1045.77,411.41 L1047.22,412.76 L1048.68,414.08 L1050.14,415.39 L1051.59,416.68 L1053.05,417.95 L1054.51,419.19 L1055.96,420.42 L1057.42,421.64 L1058.88,422.83 L1060.33,424.01 L1061.79,425.17 L1063.24,426.31 L1064.70,427.44 L1066.16,428.55 L1067.61,429.65 L1069.07,430.73 L1070.53,431.79 L1071.98,432.84 L1073.44,433.87 L1074.89,434.89 L1076.35,435.90 L1077.81,436.88 L1079.26,437.86 L1080.72,438.81 L1082.17,439.76 L1083.63,440.68 L1085.09,441.60 L1086.54,442.49 L1088.00,443.37 L1089.46,444.24 L1090.92,445.09 L1092.38,445.92 L1093.84,446.74 L1095.30,447.55 L1096.76,448.33 L1098.22,449.11 L1099.68,449.86 L1101.14,450.60 L1102.60,451.33 L1104.06,452.04 L1105.52,452.73 L1106.98,453.41 L1108.44,454.07 L1109.90,454.72 L1111.36,455.35 L1112.82,455.97 L1114.28,456.57 L1115.74,457.16 L1117.20,457.73 L1118.66,458.29 L1120.12,458.83 L1121.58,459.36 L1123.04,459.87 L1124.50,460.37 L1125.96,460.86 L1127.42,461.33 L1128.88,461.79 L1130.34,462.24 L1131.80,462.67 L1133.26,463.09 L1134.72,463.49 L1136.18,463.89 L1137.64,464.27 L1139.10,464.64 L1140.56,465.00 L1142.02,465.34 L1143.48,465.68 L1144.94,466.00 L1146.40,466.32 L1147.86,466.62 L1149.32,466.91 L1150.78,467.19 L1152.24,467.47 L1153.70,467.73 L1155.16,467.98 L1156.62,468.23 L1158.08,468.46 L1159.54,468.69 L1161.00,468.91 L1162.46,469.12 L1163.92,469.32 L1165.38,469.52 L1166.84,469.71 L1168.30,469.89 L1169.76,470.06 L1171.22,470.23 L1172.68,470.39 L1174.14,470.54 L1175.60,470.69 L1177.06,470.84 L1178.52,470.97 L1179.98,471.10 L1181.44,471.23 L1182.90,471.35 L1184.36,471.47 L1185.82,471.58 L1187.28,471.68 L1188.74,471.79 L1190.20,471.88 L1191.66,471.98 L1193.12,472.07 L1194.58,472.15 L1196.04,472.24 L1197.50,472.31 L1198.96,472.39 L1200.42,472.46 L1201.88,472.53 L1203.34,472.60 L1204.80,472.66 L1206.26,472.72 L1207.71,472.78 L1209.17,472.83 L1210.62,472.89 L1212.08,472.94 L1213.54,472.99 L1214.99,473.03 L1216.45,473.08 L1217.91,473.12 L1219.36,473.16 L1220.82,473.20 L1222.27,473.23 L1223.73,473.27 L1225.19,473.30 L1226.64,473.33 L1228.10,473.36 L1229.56,473.39 L1231.01,473.42 L1232.47,473.45 L1233.92,473.47 L1235.38,473.50 L1236.84,473.52 L1238.29,473.54 L1239.75,473.56 L1241.21,473.58 L1242.66,473.60 L1244.12,473.62 L1245.58,473.64 L1247.03,473.65 L1248.49,473.67 L1249.94,473.68 L1251.40,473.70 L1252.86,473.70 L1254.31,473.70 L1255.77,473.70 L1257.22,473.70 L1258.68,473.70 L1260.14,473.70 L1261.59,473.70 L1263.05,473.70 L1264.51,473.70 L1265.96,473.70 L1267.42,473.70 L1268.88,473.70 L1270.33,473.70 L1271.79,473.70 L1273.24,473.70 L1274.70,473.70 L1276.16,473.70 L1277.61,473.70 L1279.07,473.70 L1280.52,473.70 L1281.98,473.70 L1283.44,473.70 L1284.89,473.70 L1286.35,473.70 L1287.81,473.70 L1289.26,473.70 L1290.72,473.70 L1292.17,473.70 L1293.63,473.70 L1295.09,473.70 L1296.54,473.70 L1298.00,473.70" fill="none" stroke="#1f77b4" stroke-width="2.5" stroke-linejoin="round" stroke-linecap="butt"/>
<path d="M885.00,39.00 L887.00,40.30 L891.00,41.00 L893.50,42.30 L897.30,44.30 L901.10,46.20 L904.90,49.20 L908.70,53.00 L911.00,56.10 L912.80,60.00 L913.25,61.62 L914.71,64.56 L916.16,67.72 L917.62,71.07 L919.08,74.63 L920.53,78.38 L921.99,82.31 L923.44,86.41 L924.90,90.66 L926.36,95.07 L927.81,99.61 L929.27,104.28 L930.73,109.06 L932.18,113.94 L933.64,118.90 L935.09,123.95 L936.55,129.03 L938.01,134.12 L939.46,139.26 L940.92,144.43 L942.38,149.64 L943.83,154.87 L945.29,160.11 L946.74,165.37 L948.20,170.63 L949.66,175.90 L951.11,181.16 L952.57,186.41 L954.02,191.65 L955.48,196.87 L956.94,202.08 L958.39,207.26 L959.85,212.42 L961.31,217.64 L962.76,222.84 L964.22,228.01 L965.67,233.14 L967.13,238.24 L968.59,243.29 L970.04,248.29 L971.50,253.25 L972.96,258.16 L974.41,263.02 L975.87,267.82 L977.33,272.57 L978.78,277.26 L980.24,281.88 L981.69,286.45 L983.15,290.94 L984.61,295.37 L986.06,299.73 L987.52,304.00 L988.98,308.20 L990.43,312.32 L991.89,316.36 L993.34,320.33 L994.80,324.22 L996.26,328.04 L997.71,331.77 L999.17,335.43 L1000.62,339.01 L1002.08,342.51 L1003.54,345.92 L1004.99,349.26 L1006.45,352.53 L1007.91,355.71 L1009.36,358.81 L1010.82,361.84 L1012.27,364.80 L1013.73,367.68 L1015.19,370.48 L1016.64,373.21 L1018.10,375.88 L1019.56,378.47 L1021.01,380.99 L1022.47,383.45 L1023.92,385.84 L1025.38,388.17 L1026.84,390.44 L1028.29,392.64 L1029.75,394.79 L1031.21,396.87 L1032.66,398.91 L1034.12,400.88 L1035.58,402.81 L1037.03,404.68 L1038.49,406.50 L1039.94,408.28 L1041.40,410.00 L1042.86,411.68 L1044.31,413.32 L1045.77,414.91 L1047.22,416.47 L1048.68,417.98 L1050.14,419.45 L1051.59,420.88 L1053.05,422.28 L1054.51,423.64 L1055.96,424.96 L1057.42,426.26 L1058.88,427.52 L1060.33,428.74 L1061.79,429.94 L1063.24,431.10 L1064.70,432.24 L1066.16,433.35 L1067.61,434.43 L1069.07,435.49 L1070.53,436.51 L1071.98,437.52 L1073.44,438.49 L1074.89,439.45 L1076.35,440.38 L1077.81,441.29 L1079.26,442.17 L1080.72,443.04 L1082.17,443.88 L1083.63,444.70 L1085.09,445.50 L1086.54,446.28 L1088.00,447.04 L1089.46,447.79 L1090.92,448.51 L1092.38,449.22 L1093.84,449.91 L1095.30,450.58 L1096.76,451.24 L1098.22,451.88 L1099.68,452.50 L1101.14,453.11 L1102.60,453.70 L1104.06,454.28 L1105.52,454.84 L1106.98,455.39 L1108.44,455.93 L1109.90,456.45 L1111.36,456.95 L1112.82,457.45 L1114.28,457.93 L1115.74,458.40 L1117.20,458.86 L1118.66,459.30 L1120.12,459.73 L1121.58,460.15 L1123.04,460.57 L1124.50,460.96 L1125.96,461.35 L1127.42,461.73 L1128.88,462.10 L1130.34,462.46 L1131.80,462.81 L1133.26,463.14 L1134.72,463.47 L1136.18,463.79 L1137.64,464.11 L1139.10,464.41 L1140.56,464.70 L1142.02,464.99 L1143.48,465.27 L1144.94,465.54 L1146.40,465.80 L1147.86,466.05 L1149.32,466.30 L1150.78,466.54 L1152.24,466.78 L1153.70,467.00 L1155.16,467.22 L1156.62,467.44 L1158.08,467.64 L1159.54,467.84 L1161.00,468.04 L1162.46,468.23 L1163.92,468.41 L1165.38,468.59 L1166.84,468.77 L1168.30,468.93 L1169.76,469.10 L1171.22,469.25 L1172.68,469.41 L1174.14,469.56 L1175.60,469.70 L1177.06,469.84 L1178.52,469.97 L1179.98,470.11 L1181.44,470.23 L1182.90,470.36 L1184.36,470.48 L1185.82,470.59 L1187.28,470.70 L1188.74,470.81 L1190.20,470.92 L1191.66,471.02 L1193.12,471.12 L1194.58,471.21 L1196.04,471.30 L1197.50,471.39 L1198.96,471.48 L1200.42,471.56 L1201.88,471.65 L1203.34,471.72 L1204.80,471.80 L1206.26,471.87 L1207.71,471.95 L1209.17,472.01 L1210.62,472.08 L1212.08,472.15 L1213.54,472.21 L1214.99,472.27 L1216.45,472.33 L1217.91,472.38 L1219.36,472.44 L1220.82,472.49 L1222.27,472.54 L1223.73,472.59 L1225.19,472.64 L1226.64,472.69 L1228.10,472.73 L1229.56,472.77 L1231.01,472.82 L1232.47,472.86 L1233.92,472.90 L1235.38,472.93 L1236.84,472.97 L1238.29,473.00 L1239.75,473.04 L1241.21,473.07 L1242.66,473.10 L1244.12,473.13 L1245.58,473.16 L1247.03,473.19 L1248.49,473.22 L1249.94,473.25 L1251.40,473.27 L1252.86,473.30 L1254.31,473.32 L1255.77,473.35 L1257.22,473.37 L1258.68,473.39 L1260.14,473.41 L1261.59,473.43 L1263.05,473.45 L1264.51,473.47 L1265.96,473.49 L1267.42,473.50 L1268.88,473.50 L1270.33,473.50 L1271.79,473.50 L1273.24,473.50 L1274.70,473.50 L1276.16,473.50 L1277.61,473.50 L1279.07,473.50 L1280.52,473.50 L1281.98,473.50 L1283.44,473.50 L1284.89,473.50 L1286.35,473.50 L1287.81,473.50 L1289.26,473.50 L1290.72,473.50 L1292.17,473.50 L1293.63,473.50 L1295.09,473.50 L1296.54,473.50 L1298.00,473.50 L1299.46,473.50 L1300.91,473.50 L1302.37,473.50 L1303.83,473.50 L1305.28,473.50 L1306.74,473.50 L1308.19,473.50 L1309.65,473.50 L1311.11,473.50 L1312.56,473.50 L1314.02,473.50 L1315.47,473.50 L1316.93,473.50 L1318.39,473.50 L1319.84,473.50 L1321.30,473.50 L1322.76,473.50 L1324.22,473.50 L1325.68,473.50 L1327.13,473.50 L1328.59,473.50 L1330.05,473.50 L1331.51,473.50 L1332.97,473.50 L1334.43,473.50 L1335.89,473.50 L1337.35,473.50 L1338.81,473.50 L1340.26,473.50 L1341.72,473.50 L1343.18,473.50 L1344.64,473.50 L1346.10,473.50 L1347.56,473.50 L1349.02,473.50 L1350.47,473.50 L1351.93,473.50 L1353.39,473.50 L1354.85,473.50 L1356.31,473.50 L1357.77,473.50 L1359.23,473.50 L1360.69,473.50 L1362.14,473.50 L1363.60,473.50 L1365.06,473.50 L1366.52,473.50 L1367.98,473.50 L1369.44,473.50 L1370.90,473.50 L1372.36,473.50 L1373.82,473.50 L1375.27,473.50 L1376.73,473.50 L1378.19,473.50 L1379.65,473.50 L1381.11,473.50 L1382.57,473.50 L1384.03,473.50 L1385.48,473.50 L1386.94,473.50 L1388.40,473.50 L1389.86,473.50 L1391.32,473.50 L1392.78,473.50 L1394.24,473.50 L1395.70,473.50 L1397.15,473.50 L1398.61,473.50 L1400.07,473.50 L1401.53,473.50 L1402.99,473.50 L1404.45,473.50 L1405.91,473.50 L1407.37,473.50 L1408.83,473.50 L1410.28,473.50 L1411.74,473.50 L1413.20,473.50 L1414.66,473.50 L1416.12,473.50 L1417.58,473.50 L1419.04,473.50 L1420.49,473.50 L1421.95,473.50 L1423.41,473.50 L1424.87,473.50 L1426.33,473.50" fill="none" stroke="#e8262b" stroke-width="2.5" stroke-linejoin="round" stroke-linecap="butt"/>
<path d="M882.00,39.00 L884.00,40.30 L890.60,41.10 L898.30,42.30 L904.00,44.60 L907.90,47.70 L911.70,50.90 L915.10,54.50 L917.70,57.50 L920.20,60.00 L920.53,61.11 L921.99,63.69 L923.44,66.43 L924.90,69.33 L926.36,72.39 L927.81,75.60 L929.27,78.95 L930.73,82.44 L932.18,86.06 L933.64,89.80 L935.09,93.66 L936.55,97.61 L938.01,101.66 L939.46,105.80 L940.92,110.02 L942.38,114.30 L943.83,118.65 L945.29,123.05 L946.74,127.49 L948.20,131.91 L949.66,136.35 L951.11,140.83 L952.57,145.32 L954.02,149.82 L955.48,154.34 L956.94,158.86 L958.39,163.37 L959.85,167.89 L961.31,172.39 L962.76,176.89 L964.22,181.37 L965.67,185.83 L967.13,190.27 L968.59,194.70 L970.04,199.09 L971.50,203.46 L972.96,207.80 L974.41,212.11 L975.87,216.46 L977.33,220.80 L978.78,225.09 L980.24,229.35 L981.69,233.58 L983.15,237.76 L984.61,241.91 L986.06,246.02 L987.52,250.08 L988.98,254.11 L990.43,258.09 L991.89,262.03 L993.34,265.92 L994.80,269.78 L996.26,273.58 L997.71,277.34 L999.17,281.06 L1000.62,284.73 L1002.08,288.35 L1003.54,291.92 L1004.99,295.45 L1006.45,298.93 L1007.91,302.35 L1009.36,305.71 L1010.82,309.03 L1012.27,312.30 L1013.73,315.52 L1015.19,318.69 L1016.64,321.82 L1018.10,324.89 L1019.56,327.91 L1021.01,330.89 L1022.47,333.82 L1023.92,336.70 L1025.38,339.53 L1026.84,342.31 L1028.29,345.04 L1029.75,347.73 L1031.21,350.37 L1032.66,352.96 L1034.12,355.50 L1035.58,358.00 L1037.03,360.45 L1038.49,362.86 L1039.94,365.22 L1041.40,367.54 L1042.86,369.81 L1044.31,372.04 L1045.77,374.23 L1047.22,376.37 L1048.68,378.47 L1050.14,380.53 L1051.59,382.55 L1053.05,384.53 L1054.51,386.47 L1055.96,388.37 L1057.42,390.24 L1058.88,392.06 L1060.33,393.85 L1061.79,395.60 L1063.24,397.32 L1064.70,399.00 L1066.16,400.64 L1067.61,402.25 L1069.07,403.83 L1070.53,405.38 L1071.98,406.89 L1073.44,408.37 L1074.89,409.83 L1076.35,411.25 L1077.81,412.64 L1079.26,414.00 L1080.72,415.33 L1082.17,416.64 L1083.63,417.91 L1085.09,419.16 L1086.54,420.39 L1088.00,421.59 L1089.46,422.76 L1090.92,423.91 L1092.38,425.03 L1093.84,426.13 L1095.30,427.20 L1096.76,428.26 L1098.22,429.29 L1099.68,430.30 L1101.14,431.28 L1102.60,432.25 L1104.06,433.20 L1105.52,434.12 L1106.98,435.03 L1108.44,435.91 L1109.90,436.78 L1111.36,437.63 L1112.82,438.46 L1114.28,439.27 L1115.74,440.06 L1117.20,440.84 L1118.66,441.60 L1120.12,442.35 L1121.58,443.08 L1123.04,443.79 L1124.50,444.49 L1125.96,445.17 L1127.42,445.84 L1128.88,446.49 L1130.34,447.13 L1131.80,447.75 L1133.26,448.36 L1134.72,448.96 L1136.18,449.54 L1137.64,450.12 L1139.10,450.67 L1140.56,451.22 L1142.02,451.76 L1143.48,452.28 L1144.94,452.79 L1146.40,453.29 L1147.86,453.78 L1149.32,454.26 L1150.78,454.73 L1152.24,455.18 L1153.70,455.63 L1155.16,456.07 L1156.62,456.49 L1158.08,456.91 L1159.54,457.32 L1161.00,457.72 L1162.46,458.11 L1163.92,458.49 L1165.38,458.86 L1166.84,459.23 L1168.30,459.58 L1169.76,459.93 L1171.22,460.27 L1172.68,460.60 L1174.14,460.93 L1175.60,461.24 L1177.06,461.55 L1178.52,461.86 L1179.98,462.15 L1181.44,462.44 L1182.90,462.72 L1184.36,463.00 L1185.82,463.27 L1187.28,463.53 L1188.74,463.79 L1190.20,464.04 L1191.66,464.29 L1193.12,464.52 L1194.58,464.76 L1196.04,464.99 L1197.50,465.21 L1198.96,465.43 L1200.42,465.64 L1201.88,465.85 L1203.34,466.05 L1204.80,466.25 L1206.26,466.44 L1207.71,466.63 L1209.17,466.81 L1210.62,466.99 L1212.08,467.17 L1213.54,467.34 L1214.99,467.51 L1216.45,467.67 L1217.91,467.83 L1219.36,467.98 L1220.82,468.13 L1222.27,468.28 L1223.73,468.43 L1225.19,468.57 L1226.64,468.70 L1228.10,468.84 L1229.56,468.97 L1231.01,469.10 L1232.47,469.22 L1233.92,469.34 L1235.38,469.46 L1236.84,469.57 L1238.29,469.69 L1239.75,469.80 L1241.21,469.90 L1242.66,470.01 L1244.12,470.11 L1245.58,470.21 L1247.03,470.31 L1248.49,470.40 L1249.94,470.49 L1251.40,470.58 L1252.86,470.67 L1254.31,470.76 L1255.77,470.84 L1257.22,470.92 L1258.68,471.00 L1260.14,471.08 L1261.59,471.15 L1263.05,471.22 L1264.51,471.30 L1265.96,471.37 L1267.42,471.43 L1268.88,471.50 L1270.33,471.56 L1271.79,471.63 L1273.24,471.69 L1274.70,471.75 L1276.16,471.81 L1277.61,471.86 L1279.07,471.92 L1280.52,471.97 L1281.98,472.03 L1283.44,472.08 L1284.89,472.13 L1286.35,472.18 L1287.81,472.22 L1289.26,472.27 L1290.72,472.31 L1292.17,472.36 L1293.63,472.40 L1295.09,472.44 L1296.54,472.48 L1298.00,472.52 L1299.46,472.56 L1300.91,472.60 L1302.37,472.63 L1303.83,472.67 L1305.28,472.70 L1306.74,472.74 L1308.19,472.77 L1309.65,472.80 L1311.11,472.83 L1312.56,472.86 L1314.02,472.89 L1315.47,472.92 L1316.93,472.95 L1318.39,472.98 L1319.84,473.01 L1321.30,473.03 L1322.76,473.06 L1324.22,473.08 L1325.68,473.11 L1327.13,473.13 L1328.59,473.15 L1330.05,473.17 L1331.51,473.20 L1332.97,473.22 L1334.43,473.24 L1335.89,473.26 L1337.35,473.28 L1338.81,473.30 L1340.26,473.31 L1341.72,473.33 L1343.18,473.35 L1344.64,473.37 L1346.10,473.38 L1347.56,473.40 L1349.02,473.40 L1350.47,473.40 L1351.93,473.40 L1353.39,473.40 L1354.85,473.40 L1356.31,473.40 L1357.77,473.40 L1359.23,473.40 L1360.69,473.40 L1362.14,473.40 L1363.60,473.40 L1365.06,473.40 L1366.52,473.40 L1367.98,473.40 L1369.44,473.40 L1370.90,473.40 L1372.36,473.40 L1373.82,473.40 L1375.27,473.40 L1376.73,473.40 L1378.19,473.40 L1379.65,473.40 L1381.11,473.40 L1382.57,473.40 L1384.03,473.40 L1385.48,473.40 L1386.94,473.40 L1388.40,473.40 L1389.86,473.40 L1391.32,473.40" fill="none" stroke="#ffa51c" stroke-width="2.5" stroke-linejoin="round" stroke-linecap="butt"/>
<path d="M881.00,39.00 L883.00,40.30 L889.60,41.10 L897.30,42.30 L903.00,44.60 L906.80,47.70 L910.60,50.90 L914.00,54.50 L916.50,57.50 L918.70,60.00 L919.08,61.55 L920.53,64.26 L921.99,67.14 L923.44,70.20 L924.90,73.43 L926.36,76.82 L927.81,80.37 L929.27,84.06 L930.73,87.89 L932.18,91.85 L933.64,95.92 L935.09,100.11 L936.55,104.39 L938.01,108.77 L939.46,113.22 L940.92,117.75 L942.38,122.34 L943.83,126.98 L945.29,131.59 L946.74,136.24 L948.20,140.91 L949.66,145.61 L951.11,150.33 L952.57,155.05 L954.02,159.78 L955.48,164.51 L956.94,169.24 L958.39,173.95 L959.85,178.65 L961.31,183.34 L962.76,188.01 L964.22,192.65 L965.67,197.28 L967.13,201.87 L968.59,206.43 L970.04,210.97 L971.50,215.52 L972.96,220.07 L974.41,224.59 L975.87,229.07 L977.33,233.51 L978.78,237.91 L980.24,242.26 L981.69,246.58 L983.15,250.85 L984.61,255.07 L986.06,259.25 L987.52,263.38 L988.98,267.47 L990.43,271.50 L991.89,275.49 L993.34,279.43 L994.80,283.32 L996.26,287.15 L997.71,290.94 L999.17,294.67 L1000.62,298.35 L1002.08,301.97 L1003.54,305.52 L1004.99,309.03 L1006.45,312.47 L1007.91,315.87 L1009.36,319.21 L1010.82,322.50 L1012.27,325.73 L1013.73,328.90 L1015.19,332.03 L1016.64,335.09 L1018.10,338.11 L1019.56,341.07 L1021.01,343.97 L1022.47,346.82 L1023.92,349.62 L1025.38,352.37 L1026.84,355.06 L1028.29,357.70 L1029.75,360.29 L1031.21,362.83 L1032.66,365.31 L1034.12,367.75 L1035.58,370.14 L1037.03,372.47 L1038.49,374.76 L1039.94,377.01 L1041.40,379.20 L1042.86,381.35 L1044.31,383.45 L1045.77,385.51 L1047.22,387.53 L1048.68,389.50 L1050.14,391.43 L1051.59,393.31 L1053.05,395.16 L1054.51,396.97 L1055.96,398.73 L1057.42,400.46 L1058.88,402.15 L1060.33,403.80 L1061.79,405.42 L1063.24,407.00 L1064.70,408.54 L1066.16,410.06 L1067.61,411.53 L1069.07,412.98 L1070.53,414.39 L1071.98,415.77 L1073.44,417.12 L1074.89,418.44 L1076.35,419.74 L1077.81,421.00 L1079.26,422.23 L1080.72,423.44 L1082.17,424.62 L1083.63,425.77 L1085.09,426.90 L1086.54,428.00 L1088.00,429.08 L1089.46,430.14 L1090.92,431.17 L1092.38,432.17 L1093.84,433.16 L1095.30,434.12 L1096.76,435.06 L1098.22,435.98 L1099.68,436.88 L1101.14,437.76 L1102.60,438.62 L1104.06,439.47 L1105.52,440.29 L1106.98,441.09 L1108.44,441.88 L1109.90,442.65 L1111.36,443.40 L1112.82,444.13 L1114.28,444.85 L1115.74,445.55 L1117.20,446.23 L1118.66,446.90 L1120.12,447.56 L1121.58,448.20 L1123.04,448.83 L1124.50,449.44 L1125.96,450.04 L1127.42,450.62 L1128.88,451.19 L1130.34,451.75 L1131.80,452.29 L1133.26,452.83 L1134.72,453.35 L1136.18,453.85 L1137.64,454.35 L1139.10,454.84 L1140.56,455.31 L1142.02,455.77 L1143.48,456.23 L1144.94,456.67 L1146.40,457.10 L1147.86,457.52 L1149.32,457.93 L1150.78,458.34 L1152.24,458.73 L1153.70,459.11 L1155.16,459.49 L1156.62,459.85 L1158.08,460.21 L1159.54,460.56 L1161.00,460.90 L1162.46,461.23 L1163.92,461.56 L1165.38,461.87 L1166.84,462.18 L1168.30,462.49 L1169.76,462.78 L1171.22,463.07 L1172.68,463.35 L1174.14,463.62 L1175.60,463.89 L1177.06,464.15 L1178.52,464.40 L1179.98,464.65 L1181.44,464.89 L1182.90,465.13 L1184.36,465.36 L1185.82,465.58 L1187.28,465.80 L1188.74,466.02 L1190.20,466.23 L1191.66,466.43 L1193.12,466.63 L1194.58,466.82 L1196.04,467.01 L1197.50,467.19 L1198.96,467.37 L1200.42,467.55 L1201.88,467.72 L1203.34,467.88 L1204.80,468.04 L1206.26,468.20 L1207.71,468.36 L1209.17,468.51 L1210.62,468.65 L1212.08,468.79 L1213.54,468.93 L1214.99,469.07 L1216.45,469.20 L1217.91,469.33 L1219.36,469.45 L1220.82,469.57 L1222.27,469.69 L1223.73,469.81 L1225.19,469.92 L1226.64,470.03 L1228.10,470.14 L1229.56,470.24 L1231.01,470.34 L1232.47,470.44 L1233.92,470.54 L1235.38,470.63 L1236.84,470.72 L1238.29,470.81 L1239.75,470.90 L1241.21,470.98 L1242.66,471.06 L1244.12,471.14 L1245.58,471.22 L1247.03,471.30 L1248.49,471.37 L1249.94,471.44 L1251.40,471.51 L1252.86,471.58 L1254.31,471.64 L1255.77,471.71 L1257.22,471.77 L1258.68,471.83 L1260.14,471.89 L1261.59,471.95 L1263.05,472.00 L1264.51,472.06 L1265.96,472.11 L1267.42,472.16 L1268.88,472.21 L1270.33,472.26 L1271.79,472.31 L1273.24,472.36 L1274.70,472.40 L1276.16,472.45 L1277.61,472.49 L1279.07,472.53 L1280.52,472.57 L1281.98,472.61 L1283.44,472.65 L1284.89,472.69 L1286.35,472.72 L1287.81,472.76 L1289.26,472.79 L1290.72,472.83 L1292.17,472.86 L1293.63,472.89 L1295.09,472.92 L1296.54,472.95 L1298.00,472.98 L1299.46,473.01 L1300.91,473.03 L1302.37,473.06 L1303.83,473.09 L1305.28,473.11 L1306.74,473.14 L1308.19,473.16 L1309.65,473.18 L1311.11,473.21 L1312.56,473.23 L1314.02,473.25 L1315.47,473.27 L1316.93,473.29 L1318.39,473.31 L1319.84,473.33 L1321.30,473.35 L1322.76,473.37 L1324.22,473.38 L1325.68,473.40 L1327.13,473.42 L1328.59,473.43 L1330.05,473.45 L1331.51,473.47 L1332.97,473.48 L1334.43,473.49 L1335.89,473.50 L1337.35,473.50 L1338.81,473.50 L1340.26,473.50 L1341.72,473.50 L1343.18,473.50 L1344.64,473.50 L1346.10,473.50 L1347.56,473.50 L1349.02,473.50 L1350.47,473.50 L1351.93,473.50 L1353.39,473.50 L1354.85,473.50 L1356.31,473.50 L1357.77,473.50 L1359.23,473.50 L1360.69,473.50 L1362.14,473.50 L1363.60,473.50 L1365.06,473.50 L1366.52,473.50 L1367.98,473.50" fill="none" stroke="#1a8a36" stroke-width="2.5" stroke-linejoin="round" stroke-linecap="butt"/>
</g>
<rect x="855.0" y="40.3" width="583.0" height="433.7" fill="none" stroke="#2a2a2a" stroke-width="1.8"/>
<line x1="855.0" y1="474.0" x2="855.0" y2="480.0" stroke="#2a2a2a" stroke-width="1.7"/>
<line x1="971.5" y1="474.0" x2="971.5" y2="480.0" stroke="#2a2a2a" stroke-width="1.7"/>
<line x1="1088.0" y1="474.0" x2="1088.0" y2="480.0" stroke="#2a2a2a" stroke-width="1.7"/>
<line x1="1204.8" y1="474.0" x2="1204.8" y2="480.0" stroke="#2a2a2a" stroke-width="1.7"/>
<line x1="1321.3" y1="474.0" x2="1321.3" y2="480.0" stroke="#2a2a2a" stroke-width="1.7"/>
<line x1="1438.0" y1="474.0" x2="1438.0" y2="480.0" stroke="#2a2a2a" stroke-width="1.7"/>
<line x1="849.0" y1="474.0" x2="855.0" y2="474.0" stroke="#2a2a2a" stroke-width="1.7"/>
<line x1="849.0" y1="387.1" x2="855.0" y2="387.1" stroke="#2a2a2a" stroke-width="1.7"/>
<line x1="849.0" y1="300.2" x2="855.0" y2="300.2" stroke="#2a2a2a" stroke-width="1.7"/>
<line x1="849.0" y1="212.9" x2="855.0" y2="212.9" stroke="#2a2a2a" stroke-width="1.7"/>
<line x1="849.0" y1="127.3" x2="855.0" y2="127.3" stroke="#2a2a2a" stroke-width="1.7"/>
<line x1="849.0" y1="40.3" x2="855.0" y2="40.3" stroke="#2a2a2a" stroke-width="1.7"/>
<text x="855.0" y="498.3" text-anchor="middle" font-size="17" fill="#1c1c1c" stroke="#1c1c1c" stroke-width="0.4">0</text>
<text x="971.5" y="498.3" text-anchor="middle" font-size="17" fill="#1c1c1c" stroke="#1c1c1c" stroke-width="0.4">20</text>
<text x="1088.0" y="498.3" text-anchor="middle" font-size="17" fill="#1c1c1c" stroke="#1c1c1c" stroke-width="0.4">40</text>
<text x="1204.8" y="498.3" text-anchor="middle" font-size="17" fill="#1c1c1c" stroke="#1c1c1c" stroke-width="0.4">60</text>
<text x="1321.3" y="498.3" text-anchor="middle" font-size="17" fill="#1c1c1c" stroke="#1c1c1c" stroke-width="0.4">80</text>
<text x="1438.0" y="498.3" text-anchor="middle" font-size="17" fill="#1c1c1c" stroke="#1c1c1c" stroke-width="0.4">100</text>
<text x="841.2" y="479.8" text-anchor="end" font-size="17" fill="#1c1c1c" stroke="#1c1c1c" stroke-width="0.4">0</text>
<text x="841.2" y="392.90000000000003" text-anchor="end" font-size="17" fill="#1c1c1c" stroke="#1c1c1c" stroke-width="0.4">20</text>
<text x="841.2" y="306.0" text-anchor="end" font-size="17" fill="#1c1c1c" stroke="#1c1c1c" stroke-width="0.4">40</text>
<text x="841.2" y="218.70000000000002" text-anchor="end" font-size="17" fill="#1c1c1c" stroke="#1c1c1c" stroke-width="0.4">60</text>
<text x="841.2" y="133.1" text-anchor="end" font-size="17" fill="#1c1c1c" stroke="#1c1c1c" stroke-width="0.4">80</text>
<text x="841.2" y="46.099999999999994" text-anchor="end" font-size="17" fill="#1c1c1c" stroke="#1c1c1c" stroke-width="0.4">100</text>
<text x="1145.9" y="521.9" text-anchor="middle" font-size="17" fill="#1c1c1c" stroke="#1c1c1c" stroke-width="0.4" textLength="100.4" lengthAdjust="spacingAndGlyphs">Dose (% Rx)</text>
<text transform="translate(801.7,257.6) rotate(-90)" x="0" y="0" text-anchor="middle" font-size="17" fill="#1c1c1c" stroke="#1c1c1c" stroke-width="0.4" textLength="91.8" lengthAdjust="spacingAndGlyphs">Volume (%)</text>
<rect x="1242.8" y="48.7" width="186.0" height="102.3" rx="3" ry="3" fill="#ffffff" fill-opacity="0.8" stroke="#d8d8d8" stroke-width="1.1"/>
<line x1="1248.1" y1="61.4" x2="1283.6" y2="61.4" stroke="#1f77b4" stroke-width="2.5"/>
<text x="1295.4" y="67.0" font-size="17.2" fill="#1c1c1c" stroke="#1c1c1c" stroke-width="0.4" textLength="106.0" lengthAdjust="spacingAndGlyphs">Ground Truth</text>
<line x1="1248.1" y1="85.6" x2="1283.6" y2="85.6" stroke="#e8262b" stroke-width="2.5"/>
<text x="1294.8" y="91.19999999999999" font-size="17.2" fill="#1c1c1c" stroke="#1c1c1c" stroke-width="0.4" textLength="125.6" lengthAdjust="spacingAndGlyphs">KDE+kNN+PCA</text>
<line x1="1248.1" y1="110.4" x2="1283.6" y2="110.4" stroke="#ffa51c" stroke-width="2.5"/>
<text x="1294.8" y="116.0" font-size="17.2" fill="#1c1c1c" stroke="#1c1c1c" stroke-width="0.4" textLength="32.4" lengthAdjust="spacingAndGlyphs">KDE</text>
<line x1="1248.1" y1="135.0" x2="1283.6" y2="135.0" stroke="#1a8a36" stroke-width="2.5"/>
<text x="1294.8" y="140.6" font-size="17.2" fill="#1c1c1c" stroke="#1c1c1c" stroke-width="0.4" textLength="79.0" lengthAdjust="spacingAndGlyphs">KDE+kNN</text>
<text transform="translate(758.2,24.2) scale(0.82,1)" x="0" y="0" font-size="28" fill="#000">B</text>
<rect x="1436.2" y="85.8" width="1.2" height="3.2" fill="#2a2a2a" opacity="0.7"/>
</svg>
</body></html>
